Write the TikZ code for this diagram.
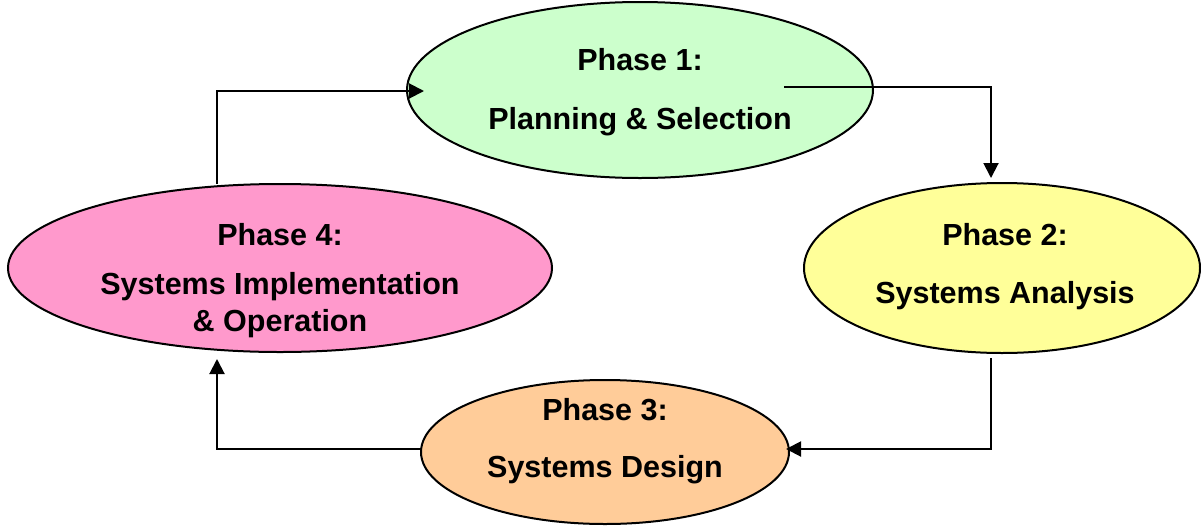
\documentclass[tikz,border=0pt]{standalone}
\usepackage{fontspec}
\setmainfont{Liberation Sans}
\usetikzlibrary{shapes.geometric,arrows.meta}
\definecolor{pgreen}{HTML}{CCFFCC}
\definecolor{pyellow}{HTML}{FFFF99}
\definecolor{porange}{HTML}{FFCC99}
\definecolor{ppink}{HTML}{FF99CC}
\begin{document}
\begin{tikzpicture}[x=1pt,y=-1pt,
  phase/.style={ellipse,draw=black,line width=2pt,inner sep=0pt},
  lbl/.style={font=\fontsize{30.5}{36}\selectfont\bfseries,inner sep=0pt,anchor=base},
  arr/.style={line width=2pt,-{Triangle[length=15pt,width=15pt]}}]
\useasboundingbox (0,0) rectangle (1201,525);
% ellipses
\node[phase,fill=pgreen,minimum width=466pt,minimum height=176pt] (e1) at (640,90) {};
\node[phase,fill=pyellow,minimum width=396pt,minimum height=170pt] (e2) at (1002,268) {};
\node[phase,fill=porange,minimum width=368pt,minimum height=144pt] (e3) at (605,452) {};
\node[phase,fill=ppink,minimum width=544pt,minimum height=168pt] (e4) at (280,268) {};
% texts
\node[lbl] (t1a) at (640,70) {Phase 1:};
\node[lbl] (t1b) at (640,129) {Planning \& Selection};
\node[lbl] (t2a) at (1005,245) {Phase 2:};
\node[lbl] (t2b) at (1005,303) {Systems Analysis};
\node[lbl] (t3a) at (605,420) {Phase 3:};
\node[lbl] (t3b) at (605,477) {Systems Design};
\node[lbl] (t4a) at (280,245) {Phase 4:};
\node[lbl] (t4b) at (280,294) {Systems Implementation};
\node[lbl] (t4c) at (280,331) {\& Operation};
% connector ends
\coordinate (a1s) at (217,184);
\coordinate (a1e) at (424,91);
\coordinate (a2s) at (784,87);
\coordinate (a2e) at (991,178);
\coordinate (a3s) at (991,358);
\coordinate (a3e) at (786,449);
\coordinate (a4s) at (421,449);
\coordinate (a4e) at (217,359);
\draw[arr] (a1s) |- (a1e);
\draw[arr] (a2s) -| (a2e);
\draw[arr] (a3s) |- (a3e);
\draw[arr] (a4s) -| (a4e);
\end{tikzpicture}
\end{document}
